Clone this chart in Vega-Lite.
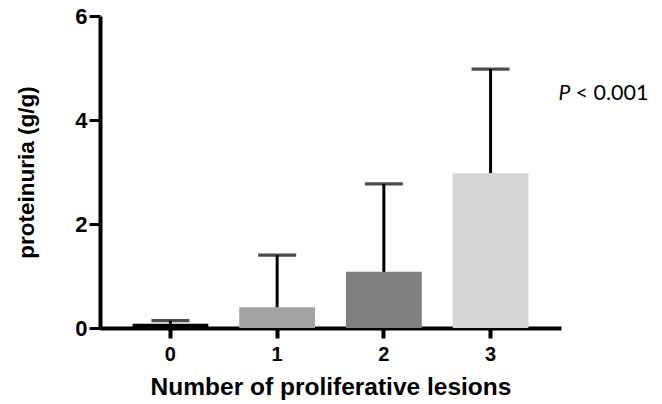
{
  "$schema": "https://vega.github.io/schema/vega-lite/v6.json",
  "width": 461,
  "height": 312,
  "autosize": "none",
  "padding": {"left": 100, "top": 16, "right": 101, "bottom": 76},
  "background": "white",
  "config": {"view": {"stroke": null}, "font": "Liberation Sans"},
  "data": {"values": [
    {"lesions": "0", "mean": 0.08, "upper": 0.14},
    {"lesions": "1", "mean": 0.40, "upper": 1.40},
    {"lesions": "2", "mean": 1.08, "upper": 2.77},
    {"lesions": "3", "mean": 2.98, "upper": 4.98}
  ]},
  "encoding": {
    "x": {
      "field": "lesions", "type": "nominal",
      "scale": {"paddingInner": 0.29, "paddingOuter": 0.305},
      "axis": {
        "title": "Number of proliferative lesions",
        "titleFontSize": 24.5, "titleFontWeight": "bold", "titleColor": "black", "titlePadding": 11,
        "labelAngle": 0, "labelFontSize": 20, "labelFontWeight": "bold", "labelColor": "black", "labelPadding": 6,
        "domainColor": "black", "domainWidth": 4,
        "tickColor": "black", "tickWidth": 4, "tickSize": 10
      }
    }
  },
  "layer": [
    {
      "mark": {"type": "bar"},
      "encoding": {
        "y": {
          "field": "mean", "type": "quantitative",
          "scale": {"domain": [0, 6], "nice": false},
          "axis": {
            "title": "proteinuria (g/g)", "values": [0, 2, 4, 6], "grid": false,
            "titleFontSize": 22.5, "titleFontWeight": "bold", "titleColor": "black", "titlePadding": 36,
            "labelFontSize": 22, "labelFontWeight": "bold", "labelColor": "black", "labelPadding": 2,
            "domainColor": "black", "domainWidth": 4,
            "tickColor": "black", "tickWidth": 3, "tickSize": 11
          }
        },
        "color": {
          "field": "lesions", "type": "nominal", "legend": null,
          "scale": {"domain": ["0", "1", "2", "3"], "range": ["#000000", "#a3a3a3", "#7f7f7f", "#d6d6d6"]}
        }
      }
    },
    {
      "mark": {"type": "rule", "strokeWidth": 3, "color": "black"},
      "encoding": {
        "y": {"field": "mean", "type": "quantitative"},
        "y2": {"field": "upper"}
      }
    },
    {
      "mark": {"type": "tick", "orient": "horizontal", "size": 38, "thickness": 3.3, "color": "black"},
      "encoding": {
        "y": {"field": "upper", "type": "quantitative"}
      }
    },
    {
      "data": {"values": [{"lesions": "3", "label": "P", "y": 4.38}]},
      "mark": {"type": "text", "font": "Lato", "fontStyle": "italic", "fontSize": 21, "align": "left", "baseline": "alphabetic", "dx": 68, "color": "black"},
      "encoding": {
        "y": {"field": "y", "type": "quantitative"},
        "text": {"field": "label"}
      }
    },
    {
      "data": {"values": [{"lesions": "3", "label": "< 0.001", "y": 4.38}]},
      "mark": {"type": "text", "font": "Lato", "fontSize": 21.5, "align": "left", "baseline": "alphabetic", "dx": 85, "color": "black"},
      "encoding": {
        "y": {"field": "y", "type": "quantitative"},
        "text": {"field": "label"}
      }
    }
  ]
}
